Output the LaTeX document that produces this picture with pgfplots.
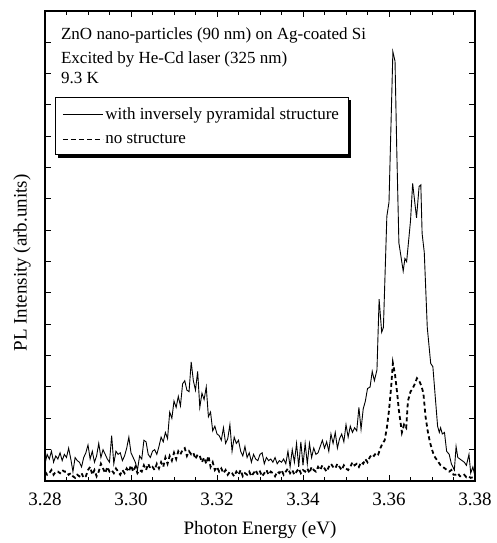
\documentclass[border=0pt]{standalone}
\usepackage{fontspec}
\setmainfont{Liberation Serif}
\usepackage{pgfplots}
\pgfplotsset{compat=1.18}
\usetikzlibrary{backgrounds}
\begin{document}
\begin{tikzpicture}
\useasboundingbox (-45pt,-62pt) rectangle (452pt,481pt);
\begin{axis}[
 scale only axis, width=430pt, height=470pt,
 at={(0pt,0pt)}, anchor=south west,
 xmin=3.28, xmax=3.38, ymin=0, ymax=15,
 xtick={3.28,3.30,3.32,3.34,3.36,3.38},
 minor x tick num=3,
 ytick={0,1,2,3,4,5,6,7,8,9,10,11,12,13,14,15}, yticklabels={},
 tick align=inside, major tick length=6pt, minor tick length=4pt,
 tick style={black, line width=1pt},
 axis line style={line width=1.5pt},
 /pgf/number format/assume math mode=true,
 xticklabel style={/pgf/number format/fixed, /pgf/number format/fixed zerofill, /pgf/number format/precision=2, font=\fontsize{19}{19}\selectfont, yshift=-8pt},
 xlabel={Photon Energy (eV)}, ylabel={PL Intensity (arb.units)},
 label style={font=\fontsize{19}{19}\selectfont},
 xlabel style={at={(axis description cs:0.5,-0.105)}, anchor=center},
 ylabel style={at={(axis description cs:-0.0535,0.464)}, anchor=center},
 legend style={name=leg, at={(axis description cs:0.023,0.817)}, anchor=north west, draw=black, line width=0.8pt, fill=white,
   font=\fontsize{17}{20}\selectfont, inner xsep=7pt, inner ysep=8pt, row sep=9pt, cells={anchor=west}},
 legend image code/.code={\draw[mark repeat=2,mark phase=2,#1] plot coordinates {(0pt,0pt) (20pt,0pt) (40pt,0pt)};},
]
\addplot[black, line width=0.9pt] table {
3.2800 0.55
3.2805 0.85
3.2810 0.70
3.2815 0.95
3.2820 0.60
3.2825 0.80
3.2830 0.70
3.2835 0.90
3.2840 0.65
3.2845 0.85
3.2850 0.75
3.2855 1.05
3.2860 0.70
3.2865 0.30
3.2870 0.75
3.2875 0.65
3.2880 0.60
3.2885 0.45
3.2890 0.75
3.2895 0.90
3.2900 1.15
3.2905 0.70
3.2910 0.95
3.2915 0.60
3.2920 0.80
3.2925 1.20
3.2930 0.75
3.2935 1.00
3.2940 0.85
3.2945 0.70
3.2950 0.60
3.2955 1.45
3.2960 0.55
3.2965 0.95
3.2970 0.85
3.2975 0.90
3.2980 0.65
3.2985 0.80
3.2990 1.05
3.2995 1.40
3.3000 0.90
3.3005 0.75
3.3010 0.60
3.3015 0.35
3.3020 0.80
3.3025 0.70
3.3030 1.30
3.3035 1.25
3.3040 0.85
3.3045 0.75
3.3050 0.95
3.3055 1.00
3.3060 0.85
3.3065 1.10
3.3070 1.40
3.3075 1.25
3.3080 1.55
3.3085 1.35
3.3090 2.20
3.3095 2.00
3.3100 2.55
3.3105 2.35
3.3110 2.70
3.3115 2.40
3.3120 3.10
3.3125 3.20
3.3130 2.90
3.3135 2.85
3.3140 3.80
3.3145 3.20
3.3150 2.90
3.3155 3.50
3.3160 2.35
3.3165 2.80
3.3170 2.60
3.3175 3.00
3.3180 2.05
3.3185 2.20
3.3190 1.60
3.3195 1.75
3.3200 1.50
3.3205 1.45
3.3210 1.30
3.3215 1.70
3.3220 1.20
3.3225 1.35
3.3230 1.80
3.3235 0.95
3.3240 1.40
3.3245 1.20
3.3250 1.30
3.3255 0.95
3.3260 0.80
3.3265 1.10
3.3270 0.75
3.3275 0.90
3.3280 0.60
3.3285 0.85
3.3290 0.70
3.3295 0.65
3.3300 0.85
3.3305 0.90
3.3310 0.55
3.3315 0.75
3.3320 0.65
3.3325 0.70
3.3330 0.60
3.3335 0.75
3.3340 0.55
3.3345 0.65
3.3350 0.60
3.3355 0.70
3.3360 0.55
3.3365 0.95
3.3370 0.45
3.3375 1.00
3.3380 0.60
3.3385 1.20
3.3390 0.45
3.3395 1.25
3.3400 0.50
3.3405 1.20
3.3410 0.55
3.3415 1.20
3.3420 0.75
3.3425 1.05
3.3430 0.85
3.3435 0.90
3.3440 1.10
3.3445 1.30
3.3450 1.05
3.3455 1.25
3.3460 0.95
3.3465 1.50
3.3470 1.20
3.3475 1.55
3.3480 1.05
3.3485 1.35
3.3490 1.50
3.3495 1.25
3.3500 1.80
3.3505 1.40
3.3510 1.75
3.3515 1.55
3.3520 1.70
3.3525 1.60
3.3530 2.35
3.3535 1.65
3.3540 2.30
3.3545 2.55
3.3550 2.95
3.3556 3.00
3.3561 3.50
3.3566 3.20
3.3572 3.55
3.3577 5.80
3.3583 4.75
3.3587 4.90
3.3595 8.45
3.3600 8.90
3.3609 13.70
3.3614 13.40
3.3618 10.60
3.3623 7.60
3.3633 6.70
3.3637 7.10
3.3641 7.00
3.3650 8.30
3.3655 9.50
3.3664 8.40
3.3670 9.40
3.3674 9.45
3.3677 7.90
3.3682 7.30
3.3689 4.90
3.3697 3.75
3.3702 3.65
3.3713 1.75
3.3717 1.55
3.3720 1.70
3.3724 1.50
3.3729 1.55
3.3734 0.95
3.3740 0.85
3.3745 0.55
3.3752 0.35
3.3756 1.10
3.3760 0.75
3.3765 0.70
3.3770 0.65
3.3775 0.60
3.3780 0.50
3.3786 0.85
3.3790 0.25
3.3795 0.45
3.3800 0.15
};
\addlegendentry{with inversely pyramidal structure}
\addplot[black, line width=1.8pt, dash pattern=on 4pt off 3pt, legend image post style={line width=1pt, dash pattern=on 5pt off 3pt}] table {
3.2800 0.30
3.2805 0.20
3.2810 0.25
3.2815 0.35
3.2820 0.20
3.2825 0.30
3.2830 0.30
3.2835 0.25
3.2840 0.35
3.2845 0.30
3.2850 0.30
3.2855 0.20
3.2860 0.25
3.2865 0.15
3.2870 0.10
3.2875 0.20
3.2880 0.15
3.2885 0.25
3.2890 0.10
3.2895 0.15
3.2900 0.35
3.2905 0.45
3.2910 0.20
3.2915 0.35
3.2920 0.15
3.2925 0.30
3.2930 0.55
3.2935 0.40
3.2940 0.25
3.2945 0.45
3.2950 0.30
3.2955 0.35
3.2960 0.25
3.2965 0.40
3.2970 0.30
3.2975 0.20
3.2980 0.35
3.2985 0.25
3.2990 0.40
3.2995 0.30
3.3000 0.50
3.3005 0.30
3.3010 0.45
3.3015 0.25
3.3020 0.35
3.3025 0.30
3.3030 0.50
3.3035 0.35
3.3040 0.55
3.3045 0.40
3.3050 0.45
3.3055 0.35
3.3060 0.55
3.3065 0.40
3.3070 0.60
3.3075 0.45
3.3080 0.75
3.3085 0.55
3.3090 0.80
3.3095 0.65
3.3100 0.90
3.3105 0.70
3.3110 0.95
3.3115 0.85
3.3120 1.00
3.3125 1.05
3.3130 0.80
3.3135 0.95
3.3140 0.85
3.3145 0.90
3.3150 0.70
3.3155 0.85
3.3160 0.80
3.3165 0.60
3.3170 0.75
3.3175 0.55
3.3180 0.80
3.3185 0.45
3.3190 0.60
3.3195 0.35
3.3200 0.45
3.3205 0.30
3.3210 0.40
3.3215 0.25
3.3220 0.35
3.3225 0.20
3.3230 0.30
3.3235 0.25
3.3240 0.15
3.3245 0.30
3.3250 0.20
3.3255 0.35
3.3260 0.15
3.3265 0.25
3.3270 0.20
3.3275 0.30
3.3280 0.15
3.3285 0.25
3.3290 0.35
3.3295 0.20
3.3300 0.30
3.3305 0.15
3.3310 0.25
3.3315 0.35
3.3320 0.20
3.3325 0.30
3.3330 0.25
3.3335 0.15
3.3340 0.30
3.3345 0.25
3.3350 0.35
3.3355 0.20
3.3360 0.30
3.3365 0.40
3.3370 0.25
3.3375 0.35
3.3380 0.20
3.3385 0.30
3.3390 0.40
3.3395 0.25
3.3400 0.35
3.3405 0.30
3.3410 0.40
3.3415 0.25
3.3420 0.45
3.3425 0.35
3.3430 0.30
3.3435 0.45
3.3440 0.35
3.3445 0.50
3.3450 0.40
3.3455 0.30
3.3460 0.45
3.3465 0.55
3.3470 0.45
3.3475 0.40
3.3480 0.55
3.3485 0.45
3.3490 0.35
3.3495 0.50
3.3500 0.40
3.3505 0.35
3.3510 0.45
3.3515 0.60
3.3520 0.50
3.3525 0.55
3.3530 0.45
3.3535 0.60
3.3540 0.55
3.3545 0.70
3.3550 0.60
3.3555 0.75
3.3560 0.85
3.3565 0.80
3.3570 0.90
3.3575 0.85
3.3580 1.05
3.3585 1.20
3.3590 1.30
3.3595 1.70
3.3600 2.25
3.3605 3.00
3.3609 3.76
3.3614 3.40
3.3619 2.80
3.3623 2.25
3.3630 1.55
3.3635 1.80
3.3640 1.70
3.3644 2.55
3.3650 2.85
3.3655 2.95
3.3660 3.10
3.3665 3.28
3.3670 3.20
3.3675 3.05
3.3680 2.80
3.3685 2.05
3.3690 1.60
3.3695 1.25
3.3700 1.00
3.3705 0.80
3.3710 0.70
3.3715 0.60
3.3720 0.50
3.3725 0.45
3.3730 0.40
3.3735 0.35
3.3740 0.30
3.3745 0.35
3.3750 0.20
3.3755 0.20
3.3760 0.25
3.3765 0.15
3.3770 0.15
3.3775 0.20
3.3780 0.12
3.3785 0.15
3.3790 0.10
3.3795 0.12
3.3800 0.10
};
\addlegendentry{no structure}
\node[anchor=base west, inner sep=0pt, font=\fontsize{17}{17}\selectfont] at (rel axis cs:0.037,0.940) {ZnO nano-particles (90 nm) on Ag-coated Si};
\node[anchor=base west, inner sep=0pt, font=\fontsize{17}{17}\selectfont] at (rel axis cs:0.037,0.889) {Excited by He-Cd laser (325 nm)};
\node[anchor=base west, inner sep=0pt, font=\fontsize{17}{17}\selectfont] at (rel axis cs:0.037,0.845) {9.3 K};
\end{axis}
\begin{pgfonlayer}{background}
\fill[black] ([xshift=3pt,yshift=-3pt]leg.south west) rectangle ([xshift=3pt,yshift=-3pt]leg.north east);
\end{pgfonlayer}
\end{tikzpicture}
\end{document}
